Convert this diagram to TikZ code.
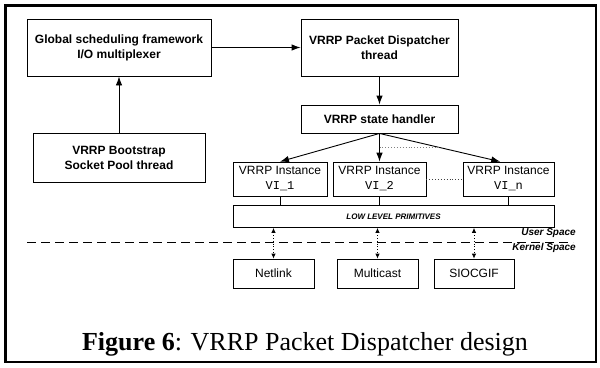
\documentclass[tikz,border=0pt]{standalone}
\usepackage{fontspec}
\setmainfont{Liberation Serif}
\setsansfont{Liberation Sans}
\setmonofont{Liberation Mono}
\usetikzlibrary{arrows.meta,calc}
\begin{document}
\begin{tikzpicture}[x=1pt,y=-1pt,
  box/.style={draw,line width=0.9pt,rectangle,inner sep=0pt,align=center,font=\sffamily\bfseries\fontsize{12}{15}\selectfont},
  ibox/.style={draw,line width=0.7pt,rectangle,inner sep=0pt,align=center,font=\sffamily\fontsize{12}{15}\selectfont},
  arr/.style={line width=0.9pt,-{Latex[length=9pt,width=6.5pt]}},
  darr/.style={line width=0.8pt,dotted,{Latex[length=5pt,width=4.5pt]}-{Latex[length=5pt,width=4.5pt]}},
  tag/.style={font=\sffamily\bfseries\itshape\fontsize{10}{12}\selectfont,anchor=base east,inner sep=0pt}]
\useasboundingbox (0,0) rectangle (600,367);
% outer frame
\draw[line width=2.5pt] (5.5,5.5) rectangle (596,362);

% user-level threads
\node[box,minimum width=184pt,minimum height=57pt] (glob) at (119,47.5) {Global scheduling framework\\I/O multiplexer};
\node[box,minimum width=172pt,minimum height=49pt] (boot) at (119,157.5) {VRRP Bootstrap\\Socket Pool thread};
\node[box,minimum width=157pt,minimum height=57pt] (disp) at (379.5,47.5) {VRRP Packet Dispatcher\\thread};
\node[box,minimum width=157pt,minimum height=28pt] (state) at (379.5,119) {VRRP state handler};

% VRRP instances
\node[ibox,minimum width=94pt,minimum height=34pt] (vi1) at (280,179) {VRRP Instance\\{\ttfamily VI\_1}};
\node[ibox,minimum width=93pt,minimum height=34pt] (vi2) at (379.5,179) {VRRP Instance\\{\ttfamily VI\_2}};
\node[ibox,minimum width=91pt,minimum height=34pt] (vin) at (508.5,179) {VRRP Instance\\{\ttfamily VI\_n}};

% primitives layer
\node[draw,line width=0.7pt,minimum width=321pt,minimum height=22pt,inner sep=0pt,
      font=\sffamily\bfseries\itshape\fontsize{8}{10}\selectfont] (low) at (393.5,216.5) {LOW LEVEL PRIMITIVES};

% kernel facilities
\node[ibox,minimum width=81pt,minimum height=29pt] (nl) at (273.5,273.5) {Netlink};
\node[ibox,minimum width=81pt,minimum height=29pt] (mc) at (377.5,273.5) {Multicast};
\node[ibox,minimum width=80pt,minimum height=29pt] (sio) at (474,273.5) {SIOCGIF};

% control flow
\draw[arr] (boot.north) -- (glob.south);
\draw[arr] (glob.east) -- (disp.west);
\draw[arr] (disp.south) -- (state.north);
\coordinate (vinTop) at ($(vin.north west)!0.41!(vin.north east)$);
\draw[arr] (state.south) -- (vi1.north);
\draw[arr] (state.south) -- (vi2.north);
\draw[arr] (state.south) -- (vinTop);
\coordinate (fan) at ($(state.south)!0.483!(vinTop)$);
\draw[dotted,line width=0.9pt,gray] (state.south |- fan) -- (fan);
\draw[dotted,line width=0.9pt,darkgray] (vi2.east) -- (vin.west);

% instances attached to the primitives
\draw[line width=0.7pt] (vi1.south) -- (vi1.south |- low.north);
\draw[line width=0.7pt] (vi2.south) -- (vi2.south |- low.north);
\draw[line width=0.7pt] (vin.south) -- (vin.south |- low.north);

% user/kernel boundary
\coordinate (bl) at (27,242);
\coordinate (br) at (573,242);
\draw[line width=1pt,dash pattern=on 9pt off 5pt] (bl) -- (br);
\node[tag] (us) at (576,235) {User Space};
\node[tag] (ks) at (576,250) {Kernel Space};

% system calls across the boundary
\draw[darr] (nl.north |- low.south) -- (nl.north);
\draw[darr] (mc.north |- low.south) -- (mc.north);
\draw[darr] (sio.north |- low.south) -- (sio.north);

% caption
\node[anchor=base,inner sep=0pt,font=\fontsize{26}{30}\selectfont] (cap) at (305,350) {\textbf{Figure 6}: VRRP Packet Dispatcher design};
\end{tikzpicture}
\end{document}
